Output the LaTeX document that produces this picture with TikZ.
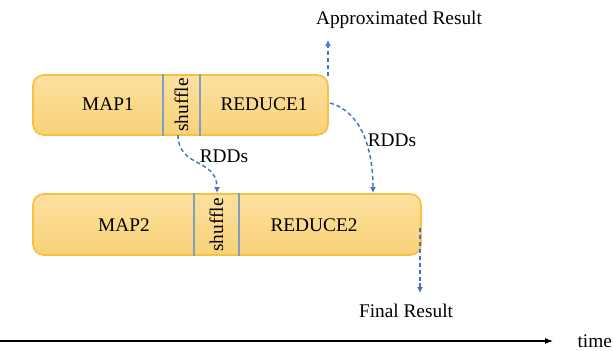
\documentclass[tikz,border=0pt]{standalone}
\usepackage{fontspec}
\setmainfont{Liberation Serif}
\usetikzlibrary{arrows.meta}
\definecolor{stagetop}{RGB}{252,224,160}
\definecolor{stagebottom}{RGB}{249,210,120}
\definecolor{stageedge}{RGB}{246,192,66}
\definecolor{divline}{RGB}{125,160,190}
\definecolor{flowblue}{RGB}{68,114,196}
\tikzset{
  stage/.style={draw=stageedge, top color=stagetop, bottom color=stagebottom,
    line width=1.2pt, rounded corners=8pt, inner sep=0pt},
  divider/.style={draw=divline, line width=0.9pt},
  lbl/.style={font=\fontsize{14.5}{17}\selectfont, inner sep=1pt},
  flow/.style={draw=flowblue, line width=1.1pt, dash pattern=on 3pt off 2.2pt,
    -{Latex[length=4.5pt,width=4.5pt]}},
  timeline/.style={draw=black, line width=0.8pt, -{Latex[length=6pt,width=4.5pt]}}
}
\begin{document}
\begin{tikzpicture}[x=0.75pt,y=-0.75pt]
  \useasboundingbox (0,0) rectangle (613,350);

  % the two stages
  \node[stage, minimum width=221.25pt, minimum height=45pt] (job1) at (180.5,105) {};
  \node[stage, minimum width=291pt, minimum height=45.75pt] (job2) at (227,224.5) {};

  % shuffle separators
  \coordinate (s1a) at (163,0);  \coordinate (s1b) at (200,0);
  \coordinate (s2a) at (194,0);  \coordinate (s2b) at (239,0);
  \draw[divider] (job1.north -| s1a) -- (job1.south -| s1a);
  \draw[divider] (job1.north -| s1b) -- (job1.south -| s1b);
  \draw[divider] (job2.north -| s2a) -- (job2.south -| s2a);
  \draw[divider] (job2.north -| s2b) -- (job2.south -| s2b);

  % stage labels
  \node[lbl] (map1) at (108,104) {MAP1};
  \node[lbl, rotate=90] (sh1) at (181.5,105) {shuffle};
  \node[lbl] (red1) at (264,104) {REDUCE1};
  \node[lbl] (map2) at (124,225) {MAP2};
  \node[lbl, rotate=90] (sh2) at (216.5,225) {shuffle};
  \node[lbl] (red2) at (314,225) {REDUCE2};

  % results
  \node[lbl] (approx) at (399,20) {Approximated Result};
  \node[lbl] (final) at (406,311) {Final Result};
  \node[lbl] (rdd1) at (224,156) {RDDs};
  \node[lbl] (rdd2) at (392,140) {RDDs};

  % connector end points on the stage borders
  \coordinate (sh1out) at (178,135);
  \coordinate (sh2in) at (217,193);
  \coordinate (r1out) at (330,103);
  \coordinate (r2in) at (373,193);
  \coordinate (r1top) at (328,76);
  \coordinate (approxin) at (328,40);
  \coordinate (r2side) at (420,228);
  \coordinate (finalin) at (420,293);

  \draw[flow] (sh1out) .. controls (178,168) and (217,158) .. (sh2in);
  \draw[flow] (r1out) .. controls (362,112) and (373,150) .. (r2in);
  \draw[flow] (r1top) -- (approxin);
  \draw[flow] (r2side) -- (finalin);

  % time axis
  \coordinate (t0) at (0,341);
  \coordinate (t1) at (553,341);
  \draw[timeline] (t0) -- (t1);
  \node[lbl, anchor=west] (time) at (576,341) {time};
\end{tikzpicture}
\end{document}
